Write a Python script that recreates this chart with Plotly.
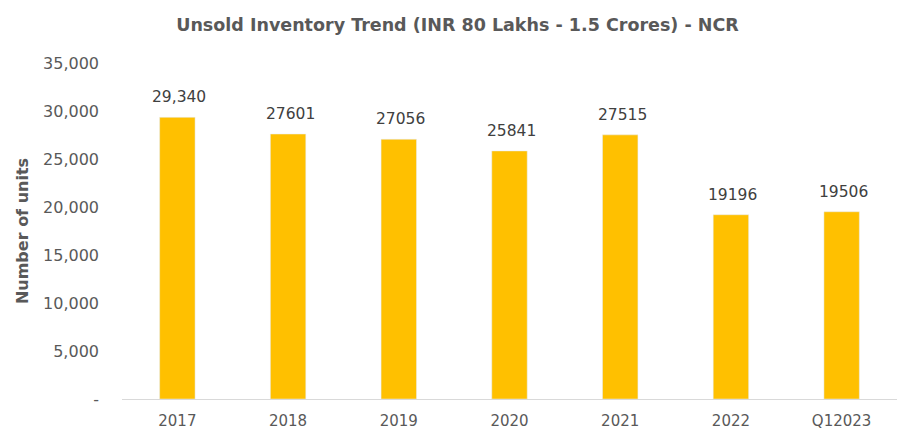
import plotly.graph_objects as go

categories = ["2017", "2018", "2019", "2020", "2021", "2022", "Q12023"]
values = [29340, 27601, 27056, 25841, 27515, 19196, 19506]
value_labels = ["29,340", "27601", "27056", "25841", "27515", "19196", "19506"]
y_tick_vals = [0, 5000, 10000, 15000, 20000, 25000, 30000, 35000]
y_tick_text = ["-", "5,000", "10,000", "15,000", "20,000", "25,000", "30,000", "35,000"]

font_family = "DejaVu Sans, sans-serif"

fig = go.Figure(go.Bar(
    x=categories, y=values,
    marker=dict(color="#FFC000"),
))

# category axes treat numeric-looking strings as indices, so place labels by category index
for idx, (val, lab) in enumerate(zip(values, value_labels)):
    fig.add_annotation(x=idx, y=val, text=lab, showarrow=False,
                       yanchor="bottom", yshift=9, xshift=2,
                       font=dict(size=15.5, color="#404040", family=font_family))

fig.update_layout(
    width=897, height=430,
    margin=dict(l=122, r=0, t=63, b=31),
    paper_bgcolor="white", plot_bgcolor="white",
    bargap=0.68,
    showlegend=False,
    title=dict(text="<b>Unsold Inventory Trend (INR 80 Lakhs - 1.5 Crores) - NCR</b>",
               x=0.51, xanchor="center", y=0.942, yanchor="middle",
               font=dict(size=17.5, color="#595959", family=font_family)),
    font=dict(family=font_family, color="#595959"),
)
fig.update_xaxes(type="category", categoryorder="array", categoryarray=categories,
                 range=[-0.5, len(categories) - 0.5],
                 showline=True, linecolor="#D9D9D9", linewidth=1,
                 ticks="", tickfont=dict(size=15, color="#595959"), ticklabelstandoff=8)
fig.update_yaxes(range=[0, 35000], tickvals=y_tick_vals, ticktext=y_tick_text,
                 showgrid=False, zeroline=False, showline=False,
                 tickfont=dict(size=16, color="#595959"), ticklabelstandoff=22,
                 title=dict(text="<b>Number of units</b>", font=dict(size=16, color="#595959"), standoff=10))

fig.write_html("out.html", config={"displayModeBar": False},
               post_script="document.body.style.margin='0';")
